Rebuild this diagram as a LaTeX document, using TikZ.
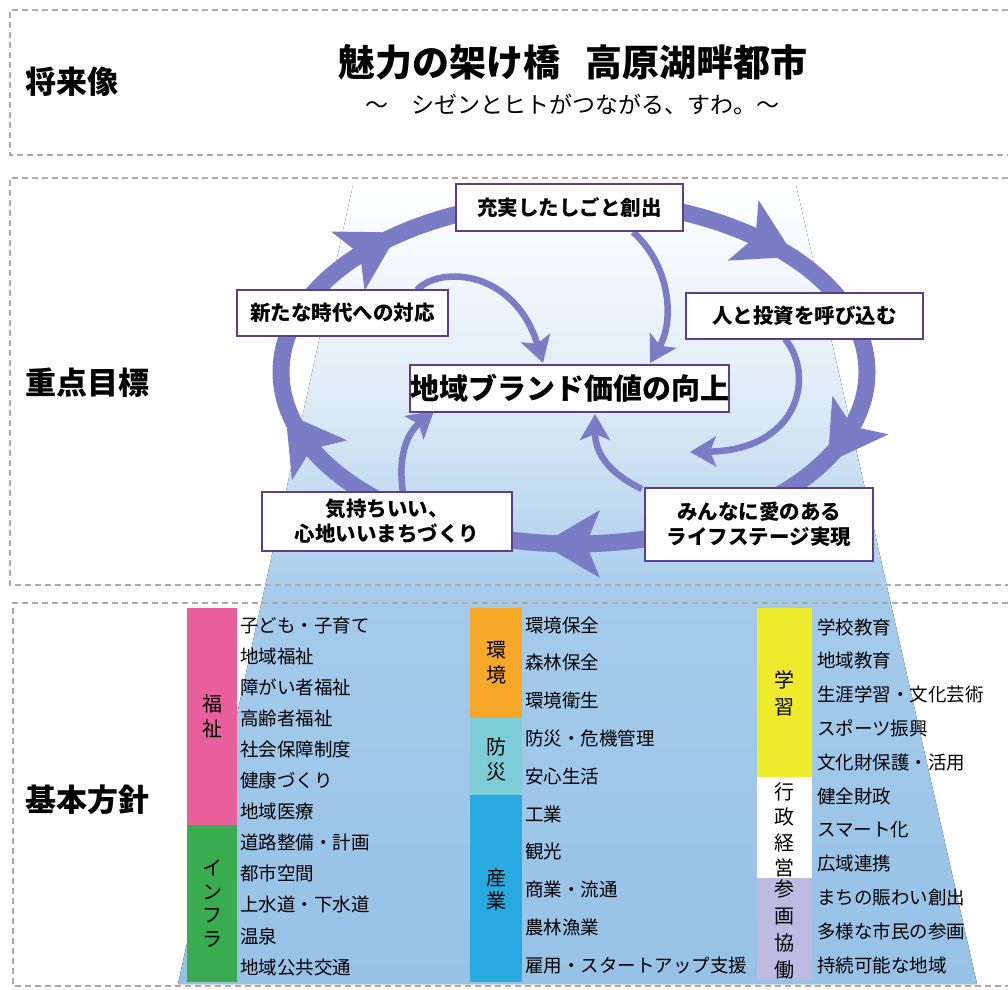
\documentclass[tikz,border=0pt]{standalone}
\usepackage{fontspec}
\newfontfamily\jp{Noto Sans CJK JP}
\usetikzlibrary{arrows.meta}
\definecolor{ringc}{RGB}{122,125,198}
\definecolor{boxc}{RGB}{92,62,142}
\definecolor{dashc}{RGB}{178,168,168}
\definecolor{coneM}{RGB}{222,235,246}
\definecolor{coneA}{RGB}{165,203,235}
\definecolor{coneB}{RGB}{150,194,230}
\definecolor{cPink}{RGB}{233,95,155}
\definecolor{cGreen}{RGB}{56,172,78}
\definecolor{cOrange}{RGB}{247,168,40}
\definecolor{cTeal}{RGB}{125,205,215}
\definecolor{cBlue}{RGB}{40,170,225}
\definecolor{cYellow}{RGB}{238,235,45}
\definecolor{cLav}{RGB}{190,185,225}
\newcommand{\ringArrowAt}[1]{%
 \pgfmathsetmacro{\rgPx}{574+293*cos(#1)}%
 \pgfmathsetmacro{\rgPy}{372-172*sin(#1)}%
 \pgfmathsetmacro{\rgAng}{atan2(1.72*cos(#1),2.93*sin(#1))}%
 \pgfmathsetmacro{\rgUx}{cos(\rgAng)}%
 \pgfmathsetmacro{\rgUy}{sin(\rgAng)}%
 \fill[ringc] ({\rgPx+32*\rgUx},{\rgPy+32*\rgUy})
   -- ({\rgPx-26*\rgUx-34*\rgUy},{\rgPy-26*\rgUy+34*\rgUx})
   -- ({\rgPx-12*\rgUx},{\rgPy-12*\rgUy})
   -- ({\rgPx-26*\rgUx+34*\rgUy},{\rgPy-26*\rgUy-34*\rgUx}) -- cycle;}
\tikzset{
 dashline/.style={draw=dashc, line width=1.1pt, dash pattern=on 6pt off 4pt},
 goal/.style={draw=boxc, line width=2.3pt, fill=white, align=center, inner sep=0pt,
   font=\jp\bfseries\fontsize{20.5}{25}\selectfont},
 inarrow/.style={draw=ringc, line width=6.5pt, -{Stealth[length=26pt,width=30pt,inset=6pt]}},
 seclabel/.style={anchor=west, inner sep=0pt, font=\jp\bfseries\fontsize{31}{34}\selectfont},
 item/.style={anchor=west, inner sep=0pt, font=\jp\fontsize{18.5}{22}\selectfont},
 barlabel/.style={align=center, inner sep=0pt, font=\jp\fontsize{20}{25}\selectfont}
}
\begin{document}
\begin{tikzpicture}[x=1pt,y=-1pt]
\useasboundingbox (0,0) rectangle (1008,989);
\fill[white] (0,0) rectangle (1008,989);
% cone
\fill[top color=white, bottom color=coneM] (353,185) -- (796,185) -- (845,400) -- (306,400) -- cycle;
\fill[top color=coneM, bottom color=coneA] (306,400) -- (845,400) -- (890,600) -- (262,600) -- cycle;
\fill[top color=coneA, bottom color=coneB] (262,600) -- (890,600) -- (977,984) -- (178,984) -- cycle;
% dashed section frames
\draw[dashline] (1008,10) -- (10,10) -- (10,155) -- (1008,155);
\draw[dashline] (1008,178) -- (10,178) -- (10,585) -- (1008,585);
\draw[dashline] (1008,603) -- (13,603) -- (13,986) -- (1008,986);
% ring
\draw[ringc, line width=17pt] (574,372) ellipse [x radius=293, y radius=172];
\ringArrowAt{134}
\ringArrowAt{49}
\ringArrowAt{-22}
\ringArrowAt{-90}
\ringArrowAt{-157}
% inner arrows
\coordinate (a1) at (633,232);   \coordinate (a2) at (650,363);
\coordinate (b1) at (417,290);   \coordinate (b2) at (543,363);
\coordinate (c1) at (785,339);   \coordinate (c2) at (690,452);
\coordinate (d1) at (642,489);   \coordinate (d2) at (595,414);
\coordinate (e1) at (403,492);   \coordinate (e2) at (434,411);
\draw[inarrow] (a1) .. controls (670,265) and (675,320) .. (a2);
\draw[inarrow] (b1) .. controls (440,265) and (515,270) .. (b2);
\draw[inarrow] (c1) .. controls (815,375) and (800,450) .. (c2);
\draw[inarrow] (d1) .. controls (612,475) and (595,455) .. (d2);
\draw[inarrow] (e1) .. controls (398,460) and (405,435) .. (e2);
% goal boxes
\node[goal, minimum width=227pt, minimum height=47pt] (g1) at (569.5,207.5) {充実したしごと創出};
\node[goal, minimum width=211pt, minimum height=46pt] (g2) at (342.5,313) {新たな時代への対応};
\node[goal, minimum width=237pt, minimum height=46pt] (g3) at (804.5,316) {人と投資を呼び込む};
\node[goal, minimum width=319pt, minimum height=47pt, font=\jp\bfseries\fontsize{29}{32}\selectfont] (gc) at (569.5,388.5) {地域ブランド価値の向上};
\node[goal, minimum width=250pt, minimum height=59pt] (g4) at (387,521.5) {気持ちいい、\\心地いいまちづくり};
\node[goal, minimum width=228pt, minimum height=73pt] (g5) at (759,524.5) {みんなに愛のある\\ライフステージ実現};
% title
\node[font=\jp\bfseries\fontsize{37}{40}\selectfont, inner sep=0pt] (title) at (573,62) {魅力の架け橋\hspace{26pt}高原湖畔都市};
\node[font=\jp\fontsize{23}{26}\selectfont, inner sep=0pt] (subtitle) at (572,104) {～　シゼンとヒトがつながる、すわ。～};
% section labels
\node[seclabel] (s1) at (25,82) {将来像};
\node[seclabel] (s2) at (25,383) {重点目標};
\node[seclabel] (s3) at (25,800) {基本方針};
% category bars
\fill[cPink] (187,608) rectangle (237,825);
\fill[cGreen] (187,825) rectangle (237,982);
\fill[cOrange] (470,608) rectangle (522,718);
\fill[cTeal] (470,718) rectangle (522,795);
\fill[cBlue] (470,795) rectangle (522,982);
\fill[cYellow] (757,608) rectangle (812,777);
\fill[white] (757,777) rectangle (812,878);
\fill[cLav] (757,878) rectangle (812,980);
\node[barlabel] (k1) at (212,716.5) {福\\祉};
\node[barlabel, font=\jp\fontsize{20}{23.7}\selectfont] (k2) at (212,903.5) {イ\\ン\\フ\\ラ};
\node[barlabel] (k3) at (496,663) {環\\境};
\node[barlabel] (k4) at (496,759) {防\\災};
\node[barlabel, font=\jp\fontsize{20}{23}\selectfont] (k5) at (496,889) {産\\業};
\node[barlabel, font=\jp\fontsize{20}{27}\selectfont] (k6) at (784.5,693) {学\\習};
\node[barlabel, font=\jp\fontsize{20}{25.3}\selectfont] (k7) at (784.5,830) {行\\政\\経\\営};
\node[barlabel, font=\jp\fontsize{20}{27}\selectfont] (k8) at (784.5,929.5) {参\\画\\協\\働};
% items
\foreach \t [count=\i from 0] in {子ども・子育て,地域福祉,障がい者福祉,高齢者福祉,社会保障制度,健康づくり,地域医療,道路整備・計画,都市空間,上水道・下水道,温泉,地域公共交通}
  \node[item] (L\i) at (240,{625+31.1*\i}) {\t};
\foreach \t [count=\i from 0] in {環境保全,森林保全,環境衛生,防災・危機管理,安心生活,工業,観光,商業・流通,農林漁業,雇用・スタートアップ支援}
  \node[item] (M\i) at (525,{625+37.8*\i}) {\t};
\foreach \t [count=\i from 0] in {学校教育,地域教育,生涯学習・文化芸術,スポーツ振興,文化財保護・活用,健全財政,スマート化,広域連携,まちの賑わい創出,多様な市民の参画,持続可能な地域}
  \node[item] (R\i) at (817,{627+33.8*\i}) {\t};
\end{tikzpicture}
\end{document}
